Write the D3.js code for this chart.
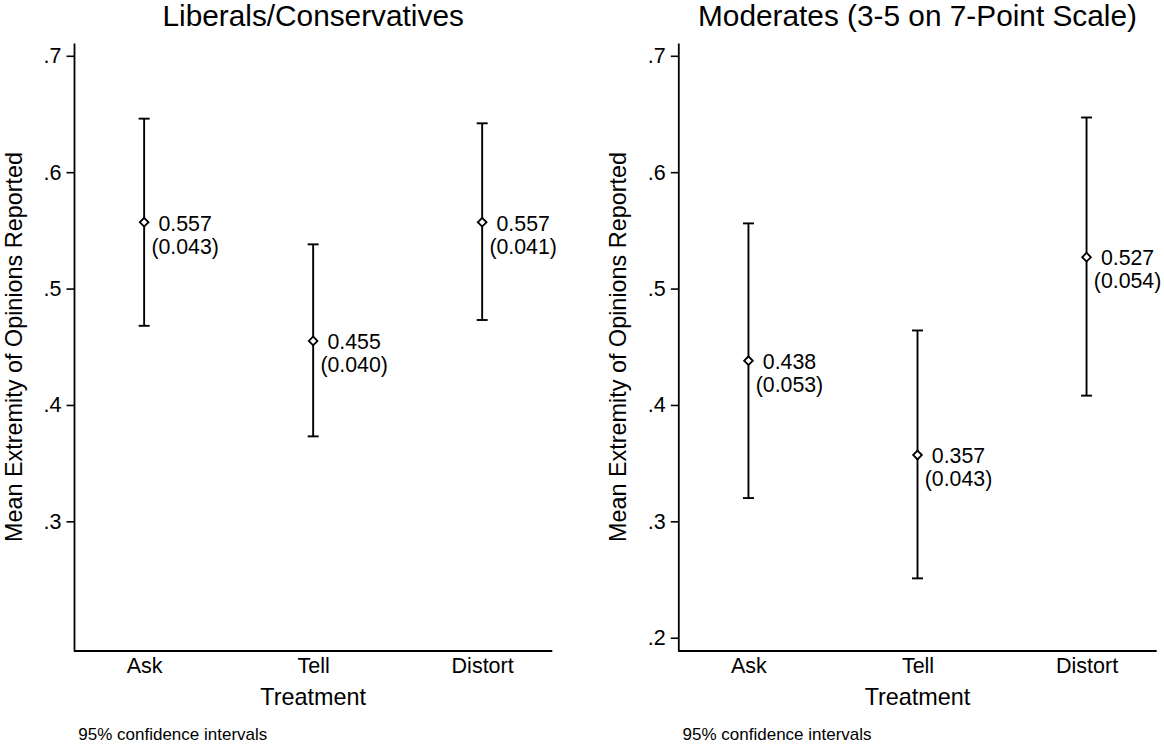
<!DOCTYPE html>
<html>
<head>
<meta charset="utf-8">
<script src="https://cdn.jsdelivr.net/npm/d3@7"></script>
<style>
  body {margin: 0; background: #fff;}
  svg {display: block; font-family: "Liberation Sans", Arial, Helvetica, sans-serif;}
  .domain {stroke: #000; stroke-width: 1.8;}
  .tick line {stroke: #000; stroke-width: 1.6;}
  .tick text {fill: #000;}
</style>
</head>
<body>
<svg width="1164" height="744"></svg>
<script>
"use strict";

//chart data
const categories = ["Ask", "Tell", "Distort"];
const titles = ["Liberals/Conservatives", "Moderates (3-5 on 7-Point Scale)"];

const libMeans = [0.557, 0.455, 0.557];
const libSE = [0.043, 0.040, 0.041];
const libLo = [0.468, 0.373, 0.473];
const libHi = [0.646, 0.538, 0.642];
const libTicks = [0.3, 0.4, 0.5, 0.6, 0.7];

const modMeans = [0.438, 0.357, 0.527];
const modSE = [0.053, 0.043, 0.054];
const modLo = [0.320, 0.251, 0.408];
const modHi = [0.556, 0.464, 0.647];
const modTicks = [0.2, 0.3, 0.4, 0.5, 0.6, 0.7];

const yLabel = "Mean Extremity of Opinions Reported";
const xLabel = "Treatment";
const note = "95% confidence intervals";

//layout params
const plotTop = 43, plotBottom = 651;
const yDomain = [0.1886, 0.711];
const capHalf = 5.5;

const panels = [
  {title: titles[0], x0: 74, x1: 552.3, means: libMeans, se: libSE, lo: libLo, hi: libHi, ticks: libTicks},
  {title: titles[1], x0: 678.3, x1: 1156.7, means: modMeans, se: modSE, lo: modLo, hi: modHi, ticks: modTicks}
];

var svg = d3.select("svg");
svg.append("rect").attr("width", 1164).attr("height", 744).attr("fill", "#fff");

var y = d3.scaleLinear().domain(yDomain).range([plotBottom, plotTop]);

panels.forEach(function(p) {
  var g = svg.append("g");
  var x = d3.scalePoint().domain(categories).range([p.x0, p.x1]).padding(0.415);
  var mid = (p.x0 + p.x1) / 2;

  var rows = categories.map(function(c, i) {
    return {cat: c, mean: p.means[i], se: p.se[i], lo: p.lo[i], hi: p.hi[i]};
  });

  //title
  g.append("text")
    .attr("x", mid).attr("y", 25.5)
    .attr("text-anchor", "middle")
    .attr("font-size", 29.8)
    .text(p.title);

  //y axis
  g.append("g")
    .attr("transform", "translate(" + p.x0 + ",0)")
    .call(d3.axisLeft(y).tickValues(p.ticks).tickSize(7.5).tickSizeOuter(0).tickPadding(5)
      .tickFormat(function(d) {return d3.format(".1f")(d).replace(/^0/, "")}))
    .call(function(a) {a.selectAll("text").attr("font-size", 21.5)});

  //x axis
  g.append("g")
    .attr("transform", "translate(0," + plotBottom + ")")
    .call(d3.axisBottom(x).tickSize(0).tickSizeOuter(0).tickPadding(6.8))
    .call(function(a) {
      a.select(".domain").attr("d", "M" + p.x0 + ",0H" + p.x1);
      a.selectAll("text").attr("font-size", 21.5);
    });

  //axis titles
  g.append("text")
    .attr("transform", "translate(" + (p.x0 - 52.4) + "," + ((plotTop + plotBottom) / 2) + ") rotate(-90)")
    .attr("text-anchor", "middle")
    .attr("font-size", 23.4)
    .text(yLabel);

  g.append("text")
    .attr("x", mid).attr("y", 705)
    .attr("text-anchor", "middle")
    .attr("font-size", 23.4)
    .text(xLabel);

  //note
  g.append("text")
    .attr("x", p.x0 + 4.3).attr("y", 740)
    .attr("font-size", 17)
    .text(note);

  //error bars
  var bars = g.append("g").selectAll("g.bar").data(rows).join("g").attr("class", "bar")
    .attr("stroke", "#000").attr("stroke-width", 1.9).attr("fill", "none");

  bars.append("line")
    .attr("x1", d => x(d.cat)).attr("x2", d => x(d.cat))
    .attr("y1", d => y(d.lo)).attr("y2", d => y(d.hi));
  bars.append("line")
    .attr("x1", d => x(d.cat) - capHalf).attr("x2", d => x(d.cat) + capHalf)
    .attr("y1", d => y(d.hi)).attr("y2", d => y(d.hi));
  bars.append("line")
    .attr("x1", d => x(d.cat) - capHalf).attr("x2", d => x(d.cat) + capHalf)
    .attr("y1", d => y(d.lo)).attr("y2", d => y(d.lo));

  //diamond markers
  g.append("g").selectAll("path").data(rows).join("path")
    .attr("d", d3.symbol(d3.symbolSquare, 38))
    .attr("transform", d => "translate(" + x(d.cat) + "," + y(d.mean) + ") rotate(45)")
    .attr("fill", "#fff").attr("stroke", "#000").attr("stroke-width", 1.8);

  //value labels
  var lab = g.append("g").selectAll("text").data(rows).join("text")
    .attr("text-anchor", "middle")
    .attr("font-size", 21.3)
    .attr("transform", d => "translate(" + (x(d.cat) + 41) + "," + y(d.mean) + ")");
  lab.append("tspan").attr("x", 0).attr("y", 8.3).text(d => d3.format(".3f")(d.mean));
  lab.append("tspan").attr("x", 0).attr("y", 31.3).text(d => "(" + d3.format(".3f")(d.se) + ")");
});
</script>
</body>
</html>
